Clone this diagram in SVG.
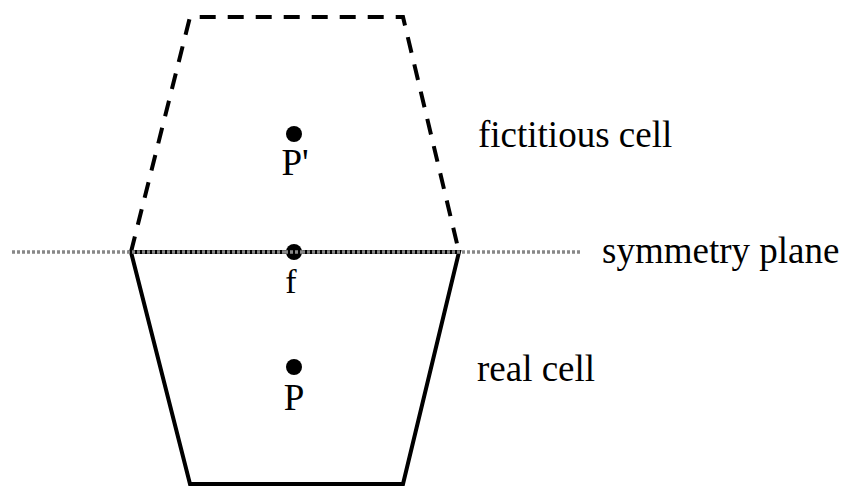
<svg xmlns="http://www.w3.org/2000/svg" width="845" height="486" viewBox="0 0 845 486">
<style>
.edge{fill:none;stroke:#000;stroke-width:4;stroke-linejoin:miter}
.dash{stroke-dasharray:16 12}
.plane{fill:none;stroke:#888;stroke-width:3.5;stroke-dasharray:3 2}
.pt{fill:#000}
text{font-family:"Liberation Serif","Times New Roman",serif;fill:#000}
</style>
<rect width="845" height="486" fill="#fff"/>
<g id="connectors">
<polyline id="fictitious-outline" class="edge dash" points="131,252 190,17 403,17 459,252"/>
<polygon id="real-outline" class="edge" points="131,252 190,484 403,484 459,252"/>
<line id="symmetry-line" class="plane" x1="12" y1="252" x2="580" y2="252"/>
</g>
<g id="node-Pprime">
<circle class="pt" cx="294" cy="134" r="8"/>
<text x="295" y="175" font-size="37" text-anchor="middle">P'</text>
</g>
<g id="node-f">
<circle class="pt" cx="294" cy="252" r="8"/>
<line class="plane" x1="285" y1="252" x2="303" y2="252"/>
<text x="291" y="293" font-size="34" text-anchor="middle">f</text>
</g>
<g id="node-P">
<circle class="pt" cx="294" cy="367" r="8"/>
<text x="294" y="410" font-size="37" text-anchor="middle">P</text>
</g>
<g id="label-fictitious">
<text x="478" y="147" font-size="37">fictitious cell</text>
</g>
<g id="label-plane">
<text x="602" y="263" font-size="37">symmetry plane</text>
</g>
<g id="label-real">
<text x="477" y="381" font-size="37">real cell</text>
</g>
</svg>
